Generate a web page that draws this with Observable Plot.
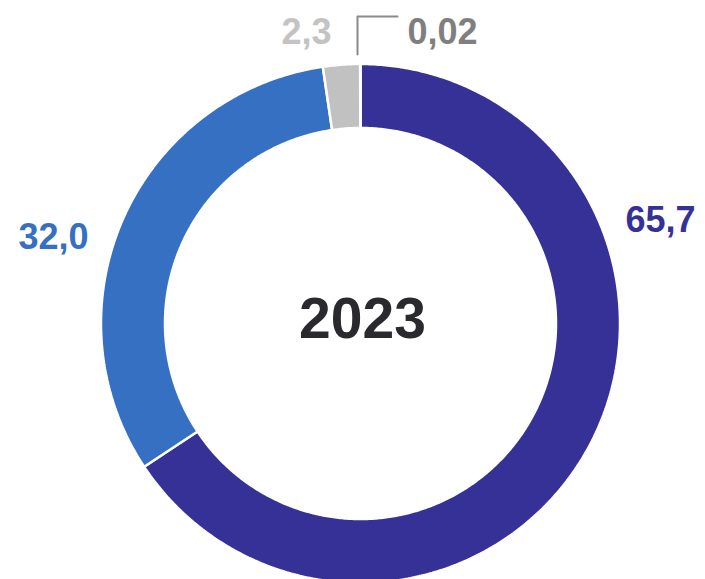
<!DOCTYPE html>
<html>
<head>
<meta charset="utf-8">
<script src="https://cdn.jsdelivr.net/npm/d3@7"></script>
<script src="https://cdn.jsdelivr.net/npm/@observablehq/plot@0.6"></script>
<style>
  html, body { margin: 0; padding: 0; background: #fff; }
  #chart svg { display: block; }
</style>
</head>
<body>
<div id="chart"></div>
<script>
// ---- data ----
const categories = ["A", "B", "C", "D"];
const values = [65.7, 32.0, 2.3, 0.02];
const labels = ["65,7", "32,0", "2,3", "0,02"];
const centerLabel = "2023";

// ---- styles / layout ----
const sliceColors = ["#363196", "#3570c3", "#c1c1c1", "#9a9a9a"];
const labelColors = ["#363196", "#3570c3", "#c3c3c3", "#7f7f7f"];
const outerR = 259.5, innerR = 195.5;
const labelPos = [[300, 103], [-307, 86], [-54, 291], [82, 291]];
const leader = [[-3, 269], [-3, 307], [37, 307]];

const total = d3.sum(values);
let acc = 0;
const polys = [];
values.forEach((v, i) => {
  const a0 = acc / total * 2 * Math.PI;
  acc += v;
  const a1 = acc / total * 2 * Math.PI;
  const n = Math.max(2, Math.ceil((a1 - a0) / (Math.PI / 180) * 2));
  const pts = [];
  for (let k = 0; k <= n; k++) {
    const a = a0 + (a1 - a0) * k / n;
    pts.push({cat: categories[i], x: outerR * Math.sin(a), y: outerR * Math.cos(a)});
  }
  for (let k = n; k >= 0; k--) {
    const a = a0 + (a1 - a0) * k / n;
    pts.push({cat: categories[i], x: innerR * Math.sin(a), y: innerR * Math.cos(a)});
  }
  pts.push({...pts[0]});
  polys.push(...pts);
});

const labelData = categories.map((c, i) => ({cat: c, label: labels[i], x: labelPos[i][0], y: labelPos[i][1]}));
const leaderData = leader.map(([x, y]) => ({x, y}));

const font = "'Liberation Sans', Arial, Helvetica, sans-serif";

const chart = Plot.plot({
  width: 705,
  height: 579,
  margin: 0,
  x: {domain: [-360, 345], range: [0, 705], axis: null},
  y: {domain: [-256, 323], range: [579, 0], axis: null},
  color: {domain: categories, range: sliceColors},
  style: {fontFamily: font, background: "#fff"},
  marks: [
    Plot.line(polys, {x: "x", y: "y", z: "cat", fill: "cat", stroke: "#ffffff", strokeWidth: 2.5, strokeLinejoin: "miter", curve: "linear"}),
    Plot.line(leaderData, {x: "x", y: "y", stroke: "#8a8a8a", strokeWidth: 2}),
    Plot.text(labelData, {x: "x", y: "y", text: "label", fill: (d) => labelColors[categories.indexOf(d.cat)], fontSize: 36, fontWeight: "bold", textAnchor: "middle", lineAnchor: "middle"}),
    Plot.text([centerLabel], {x: () => 2, y: () => 4, text: d => d, fill: "#2a2a2e", fontSize: 57, fontWeight: "bold", textAnchor: "middle", lineAnchor: "middle"})
  ]
});
document.getElementById("chart").appendChild(chart);
</script>
</body>
</html>
